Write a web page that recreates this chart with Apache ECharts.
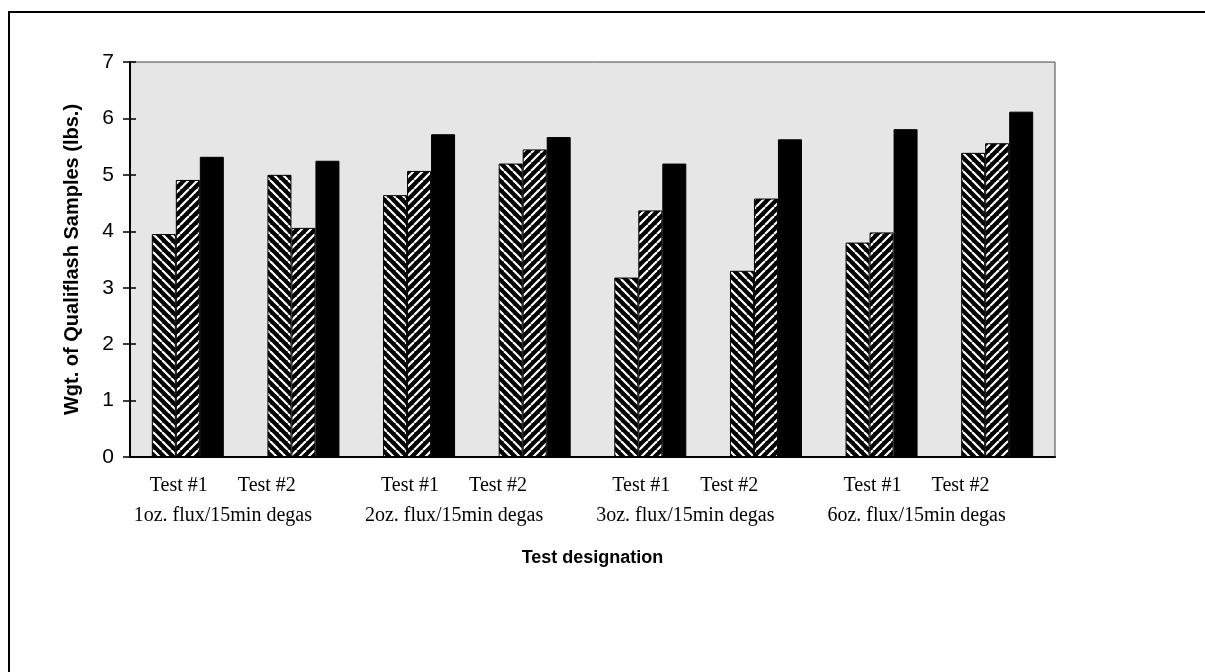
<!DOCTYPE html>
<html>
<head>
<meta charset="utf-8">
<script src="https://cdn.jsdelivr.net/npm/echarts@6/dist/echarts.min.js"></script>
<style>
html,body{margin:0;padding:0;background:#fff;}
#c{width:1205px;height:672px;}
</style>
</head>
<body>
<div id="c"></div>
<script>
// ---- data ----
const categories = ['1a','1b','2a','2b','3a','3b','6a','6b'];
const testLabels = ['Test #1','Test #2'];
const groupLabels = ['1oz. flux/15min degas','2oz. flux/15min degas','3oz. flux/15min degas','6oz. flux/15min degas'];
const seriesA = [3.95, 5.00, 4.64, 5.20, 3.18, 3.30, 3.80, 5.39];
const seriesB = [4.91, 4.06, 5.07, 5.45, 4.37, 4.58, 3.98, 5.56];
const seriesC = [5.32, 5.25, 5.72, 5.67, 5.20, 5.63, 5.81, 6.12];
const yTicks = [0,1,2,3,4,5,6,7];

function hatch(dir){
  const s = 9;
  const c = document.createElement('canvas');
  c.width = s; c.height = s;
  const g = c.getContext('2d');
  g.fillStyle = '#000'; g.fillRect(0,0,s,s);
  g.strokeStyle = '#fff'; g.lineWidth = 2.2;
  for (let k=-1;k<=1;k++){
    g.beginPath();
    if (dir > 0){ g.moveTo(k*s, s); g.lineTo(k*s+s, 0); }
    else { g.moveTo(k*s, 0); g.lineTo(k*s+s, s); }
    g.stroke();
  }
  return c;
}

const chart = echarts.init(document.getElementById('c'), null, {renderer:'canvas'});
const option = {
  animation:false,
  backgroundColor:'#fff',
  graphic:[
    {type:'line', shape:{x1:9,y1:12,x2:9,y2:672}, style:{stroke:'#000',lineWidth:2}},
    {type:'line', shape:{x1:8,y1:12,x2:1205,y2:12}, style:{stroke:'#000',lineWidth:2}}
  ],
  grid:{left:130, right:150, top:62, bottom:215, show:true, backgroundColor:'#e6e6e6', borderColor:'#444', borderWidth:1},
  xAxis:{
    type:'category', data:categories,
    axisLine:{show:true, lineStyle:{color:'#000', width:2}},
    axisTick:{show:false},
    axisLabel:{
      interval:0, margin:14, padding:[0,0,0,70],
      fontFamily:'Liberation Serif', fontSize:20, color:'#000', lineHeight:30,
      formatter:function(v, i){
        if (i % 2 !== 0) return '';
        return '{a|' + testLabels[0] + '}{g|}{a|' + testLabels[1] + '}\n{b|' + groupLabels[i/2] + '}';
      },
      rich:{
        a:{fontFamily:'Liberation Serif', fontSize:20, color:'#000', lineHeight:30},
        g:{width:30},
        b:{fontFamily:'Liberation Serif', fontSize:20, color:'#000', lineHeight:30}
      }
    },
    name:'Test designation', nameLocation:'middle', nameGap:92,
    nameTextStyle:{fontFamily:'Liberation Sans', fontWeight:'bold', fontSize:18, color:'#000'}
  },
  yAxis:[{
    type:'value', min:0, max:7, interval:1,
    axisLine:{show:true, lineStyle:{color:'#000', width:2}},
    axisTick:{show:true, length:7, lineStyle:{color:'#000', width:1.5}},
    splitLine:{show:false},
    axisLabel:{margin:16, fontFamily:'Liberation Sans', fontSize:21, color:'#000',
      formatter:function(v){ return yTicks.indexOf(v) >= 0 ? String(v) : ''; }},
    name:'Wgt. of Qualiflash Samples (lbs.)', nameLocation:'middle', nameGap:48,
    nameTextStyle:{fontFamily:'Liberation Sans', fontWeight:'bold', fontSize:20, color:'#000'}
  },{
    type:'value', min:0, max:7, interval:1, position:'left',
    axisLine:{show:false},
    axisTick:{show:true, inside:true, length:6, lineStyle:{color:'#000', width:1.5}},
    axisLabel:{show:false}, splitLine:{show:false}
  }],
  series:[
    {type:'bar', data:seriesA, barWidth:24, barGap:'0%',
     itemStyle:{color:{image:hatch(-1), repeat:'repeat'}, borderColor:'#000', borderWidth:1}},
    {type:'bar', data:seriesB, barWidth:24, barGap:'0%',
     itemStyle:{color:{image:hatch(1), repeat:'repeat'}, borderColor:'#000', borderWidth:1}},
    {type:'bar', data:seriesC, barWidth:24, barGap:'0%',
     itemStyle:{color:'#000', borderColor:'#000', borderWidth:1}}
  ]
};
chart.setOption(option);
</script>
</body>
</html>
